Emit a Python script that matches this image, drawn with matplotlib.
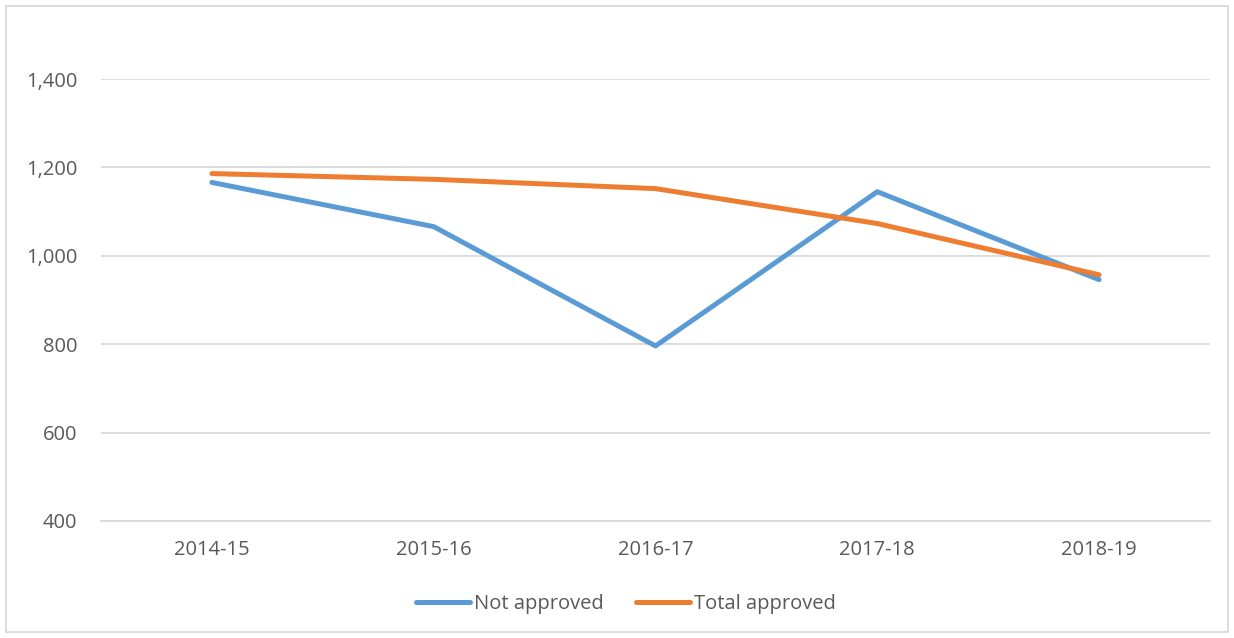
import matplotlib.pyplot as plt
from matplotlib.patches import Rectangle
from matplotlib.ticker import FuncFormatter

years = ['2014-15', '2015-16', '2016-17', '2017-18', '2018-19']
not_approved = [1166, 1066, 796, 1145, 946]
total_approved = [1186, 1173, 1152, 1073, 957]

text_color = '#595959'
grid_color = '#d9d9d9'

plt.rcParams['font.family'] = ['Open Sans', 'DejaVu Sans']

fig = plt.figure(figsize=(12.34, 6.38), dpi=100)
ax = fig.add_axes([101 / 1234, 1 - 521 / 638, (1210 - 101) / 1234, (521 - 79) / 638])

x = range(len(years))
ax.plot(x, not_approved, color='#5b9bd5', linewidth=3.6, solid_capstyle='round', label='Not approved')
ax.plot(x, total_approved, color='#ed7d31', linewidth=3.6, solid_capstyle='round', label='Total approved')

ax.set_xlim(-0.5, len(years) - 0.5)
ax.set_ylim(400, 1400)
ax.set_yticks(range(400, 1401, 200))
ax.yaxis.set_major_formatter(FuncFormatter(lambda v, p: f'{int(v):,}'))
ax.set_xticks(list(x))
ax.set_xticklabels(years)
ax.grid(axis='y', color=grid_color, linewidth=1.3)
ax.set_axisbelow(True)
for s in ['top', 'right', 'left']:
    ax.spines[s].set_visible(False)
ax.spines['bottom'].set_color(grid_color)
ax.spines['bottom'].set_linewidth(1.3)
ax.tick_params(axis='both', length=0, labelsize=14.5, colors=text_color)
ax.tick_params(axis='y', pad=17)
ax.tick_params(axis='x', pad=14)

leg = fig.legend(loc='center', bbox_to_anchor=(626 / 1234, 1 - 604 / 638), ncol=2, frameon=False,
                 fontsize=14.5, handlelength=2.7, handletextpad=0.2, columnspacing=1.6)
for t in leg.get_texts():
    t.set_color(text_color)

fig.patches.append(Rectangle((6 / 1234, 6 / 638), 1222 / 1234, 626 / 638, transform=fig.transFigure,
                             fill=False, edgecolor='#d9d9d9', linewidth=1.3))

fig.savefig('out.png', dpi=100)
